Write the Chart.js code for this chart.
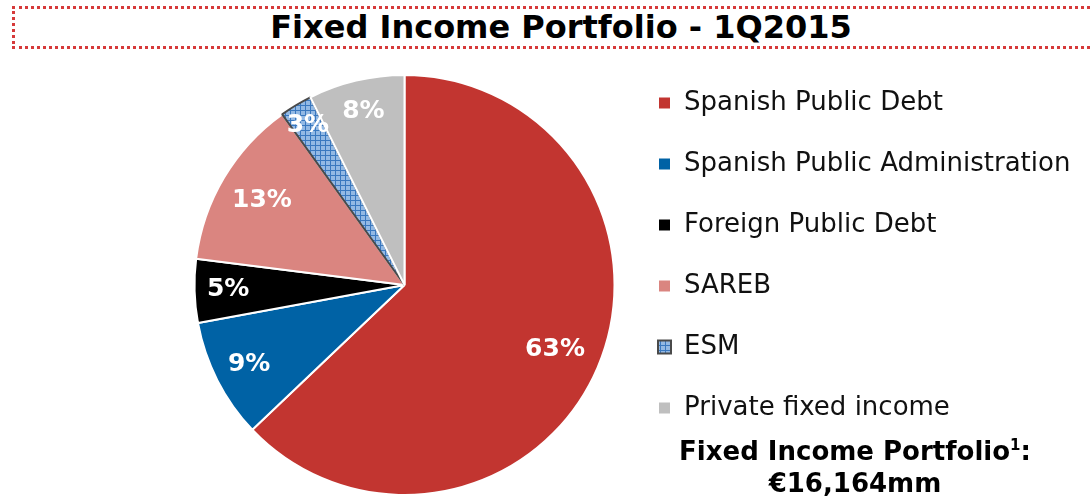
<!DOCTYPE html>
<html>
<head>
<meta charset="utf-8">
<title>Fixed Income Portfolio - 1Q2015</title>
<script src="https://cdn.jsdelivr.net/npm/chart.js@4.4.1/dist/chart.umd.min.js"></script>
<style>
  body {margin: 0; background: #fff; font-family: "DejaVu Sans", Verdana, sans-serif;}
  #page {position: relative; width: 1091px; height: 497px; overflow: hidden;}
  #title {
    position: absolute; left: 12px; top: 6px; width: 1100px; height: 37px;
    border: 3px dotted #d6393a; border-right: none;
    text-align: center; line-height: 37px;
    font-weight: bold; font-size: 32px; color: #000;
  }
  #title span {position: relative; left: -4px;}
  /* canvas runs a little below the page so the pie sits where it does in the slide */
  #wrap {position: absolute; left: 0; top: 55px; width: 1091px; height: 460px;}
  #total {
    position: absolute; left: 640px; top: 435px; width: 430px;
    text-align: center; font-weight: bold; font-size: 26px; line-height: 32px; color: #000;
  }
  #total sup {font-size: 15px; vertical-align: 10px; line-height: 0;}
</style>
</head>
<body>
<div id="page">
  <div id="title"><span>Fixed Income Portfolio - 1Q2015</span></div>
  <div id="wrap"><canvas id="myChart"></canvas></div>
  <div id="total">Fixed Income Portfolio<sup>1</sup>:<br>€16,164mm</div>
</div>

<script>
// categories, slice shares (%, as drawn) and the printed labels
var categories = ['Spanish Public Debt', 'Spanish Public Administration', 'Foreign Public Debt', 'SAREB', 'ESM', 'Private fixed income'];
var shares = [62.9, 9.2, 4.9, 13.1, 2.5, 7.4];
var shareLabels = ['63%', '9%', '5%', '13%', '3%', '8%'];

// hatched fill for ESM
function gridPattern() {
  var c = document.createElement('canvas');
  c.width = 5; c.height = 5;
  var g = c.getContext('2d');
  g.fillStyle = '#93b9e4';
  g.fillRect(0, 0, 5, 5);
  g.fillStyle = '#3a78bf';
  g.fillRect(0, 0, 5, 1);
  g.fillRect(0, 0, 1, 5);
  return g.createPattern(c, 'repeat');
}

var colors = ['#c23530', '#0062a5', '#000000', '#da8580', gridPattern(), '#bfbfbf'];
var borders = ['#ffffff', '#ffffff', '#ffffff', '#ffffff', '#4a4a4a', '#ffffff'];

// how far out (fraction of radius) each percentage sits
var labelRadius = [0.78, 0.83, 0.84, 0.79, 0.89, 0.85];

var sliceLabels = {
  id: 'sliceLabels',
  afterDatasetsDraw: function(chart) {
    var ctx = chart.ctx;
    var arcs = chart.getDatasetMeta(0).data;
    ctx.save();
    ctx.fillStyle = '#ffffff';
    ctx.font = 'bold 25px "DejaVu Sans"';
    ctx.textAlign = 'center';
    ctx.textBaseline = 'middle';
    for (var i = 0; i < arcs.length; i++) {
      var a = arcs[i];
      var mid = (a.startAngle + a.endAngle) / 2;
      var r = a.outerRadius * labelRadius[i];
      ctx.fillText(shareLabels[i], a.x + Math.cos(mid) * r, a.y + Math.sin(mid) * r);
    }
    ctx.restore();
  }
};

// the legend is otherwise capped at half the width and clips the long label
var legendRoom = {
  id: 'legendRoom',
  beforeLayout: function(chart) {
    var lg = chart.legend;
    if (lg && !lg._roomy) {
      var fit = lg.fit;
      lg.fit = function() {
        fit.call(this);
        this.width = Math.max(this.width, 460);
      };
      lg._roomy = true;
    }
  }
};

var ctx = document.getElementById('myChart').getContext('2d');
var chart = new Chart(ctx, {
  type: 'pie',
  data: {
    labels: categories,
    datasets: [{
      data: shares,
      backgroundColor: colors,
      borderColor: borders,
      borderWidth: 2,
      radius: 210
    }]
  },
  options: {
    responsive: true,
    maintainAspectRatio: false,
    animation: false,
    layout: {padding: {left: 186, right: 8, top: 0, bottom: 0}},
    plugins: {
      tooltip: {enabled: false},
      legend: {
        position: 'right',
        align: 'start',
        labels: {
          color: '#111',
          font: {family: '"DejaVu Sans"', size: 26},
          boxWidth: 13,
          boxHeight: 13,
          padding: 35
        }
      }
    }
  },
  plugins: [sliceLabels, legendRoom]
});
</script>
</body>
</html>
